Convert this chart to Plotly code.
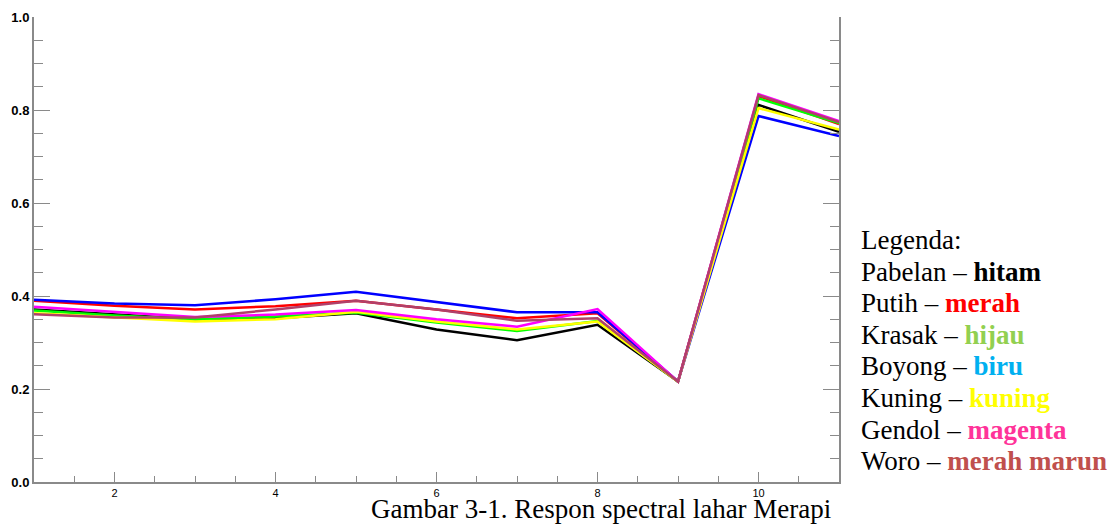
import plotly.graph_objects as go

bands = [1, 2, 3, 4, 5, 6, 7, 8, 9, 10, 11]

pabelan = [0.371, 0.360, 0.350, 0.352, 0.363, 0.328, 0.305, 0.338, 0.216, 0.811, 0.753]
putih   = [0.390, 0.379, 0.371, 0.378, 0.390, 0.371, 0.352, 0.363, 0.216, 0.830, 0.770]
krasak  = [0.369, 0.358, 0.350, 0.356, 0.364, 0.343, 0.325, 0.346, 0.216, 0.825, 0.772]
boyong  = [0.392, 0.384, 0.380, 0.393, 0.409, 0.387, 0.365, 0.365, 0.216, 0.787, 0.744]
kuning  = [0.363, 0.354, 0.345, 0.350, 0.366, 0.345, 0.328, 0.345, 0.216, 0.804, 0.758]
gendol  = [0.377, 0.366, 0.355, 0.360, 0.370, 0.350, 0.334, 0.372, 0.216, 0.834, 0.776]
woro    = [0.361, 0.354, 0.354, 0.371, 0.390, 0.371, 0.347, 0.352, 0.216, 0.832, 0.774]

series = [
    ("Pabelan", pabelan, "#000000"),
    ("Putih", putih, "#ff0000"),
    ("Krasak", krasak, "#00ff00"),
    ("Boyong", boyong, "#0000ff"),
    ("Kuning", kuning, "#ffff00"),
    ("Gendol", gendol, "#ff00ff"),
    ("Woro", woro, "#b0406a"),
]

legend_lines = [
    ("Legenda:", None, None),
    ("Pabelan", "hitam", "#000000"),
    ("Putih", "merah", "#ff0000"),
    ("Krasak", "hijau", "#92d050"),
    ("Boyong", "biru", "#00b0f0"),
    ("Kuning", "kuning", "#ffff00"),
    ("Gendol", "magenta", "#ff3399"),
    ("Woro", "merah marun", "#c0504d"),
]

caption = "Gambar 3-1. Respon spectral lahar Merapi"

fig = go.Figure()
for name, vals, col in series:
    fig.add_trace(go.Scatter(x=bands, y=vals, mode="lines", name=name,
                             line=dict(color=col, width=2.5), showlegend=False))

axis_col = "#8a8a8a"
fig.update_xaxes(range=[1, 11], tickvals=[2, 4, 6, 8, 10], ticks="inside", ticklen=10,
                 tickcolor=axis_col, showline=True, linecolor=axis_col, linewidth=2,
                 showgrid=False, zeroline=False, automargin=False,
                 minor=dict(dtick=0.5, tick0=1, ticks="inside", ticklen=6, tickcolor=axis_col),
                 tickfont=dict(family="Liberation Sans", size=11, color="#000000"),
                 tickprefix="<b>", ticksuffix="</b>")
fig.update_yaxes(range=[0, 1.0], dtick=0.2, tickformat=".1f", ticks="inside", ticklen=16,
                 tickcolor=axis_col, showline=True, linecolor=axis_col, linewidth=2,
                 mirror="ticks", showgrid=False, zeroline=False, automargin=False,
                 minor=dict(dtick=0.05, ticks="inside", ticklen=9, tickcolor=axis_col),
                 tickfont=dict(family="Liberation Sans", size=13, color="#000000"),
                 tickprefix="<b>", ticksuffix="</b>")

W, H = 1112, 525
L, T = 34, 17
R = W - 839
B = H - 482
pw, ph = W - L - R, H - T - B

annotations = []
for i, (a, b, c) in enumerate(legend_lines):
    if b is None:
        txt = a
    else:
        txt = f"{a} – <b><span style='color:{c}'>{b}</span></b>"
    ypix = 240 + i * 31.6
    annotations.append(dict(
        text=txt, xref="paper", yref="paper",
        x=(859 - L) / pw, y=(H - B - ypix) / ph,
        xanchor="left", yanchor="middle", showarrow=False,
        font=dict(family="Liberation Serif", size=27, color="#000000")))

annotations.append(dict(
    text=caption, xref="paper", yref="paper",
    x=(601 - L) / pw, y=(H - B - 509) / ph,
    xanchor="center", yanchor="middle", showarrow=False,
    font=dict(family="Liberation Serif", size=27, color="#000000")))

fig.update_layout(width=W, height=H, margin=dict(l=L, r=R, t=T, b=B),
                  paper_bgcolor="white", plot_bgcolor="white",
                  annotations=annotations)

fig.write_html("out.html", config={"displayModeBar": False},
               post_script="document.body.style.margin='0px';")
